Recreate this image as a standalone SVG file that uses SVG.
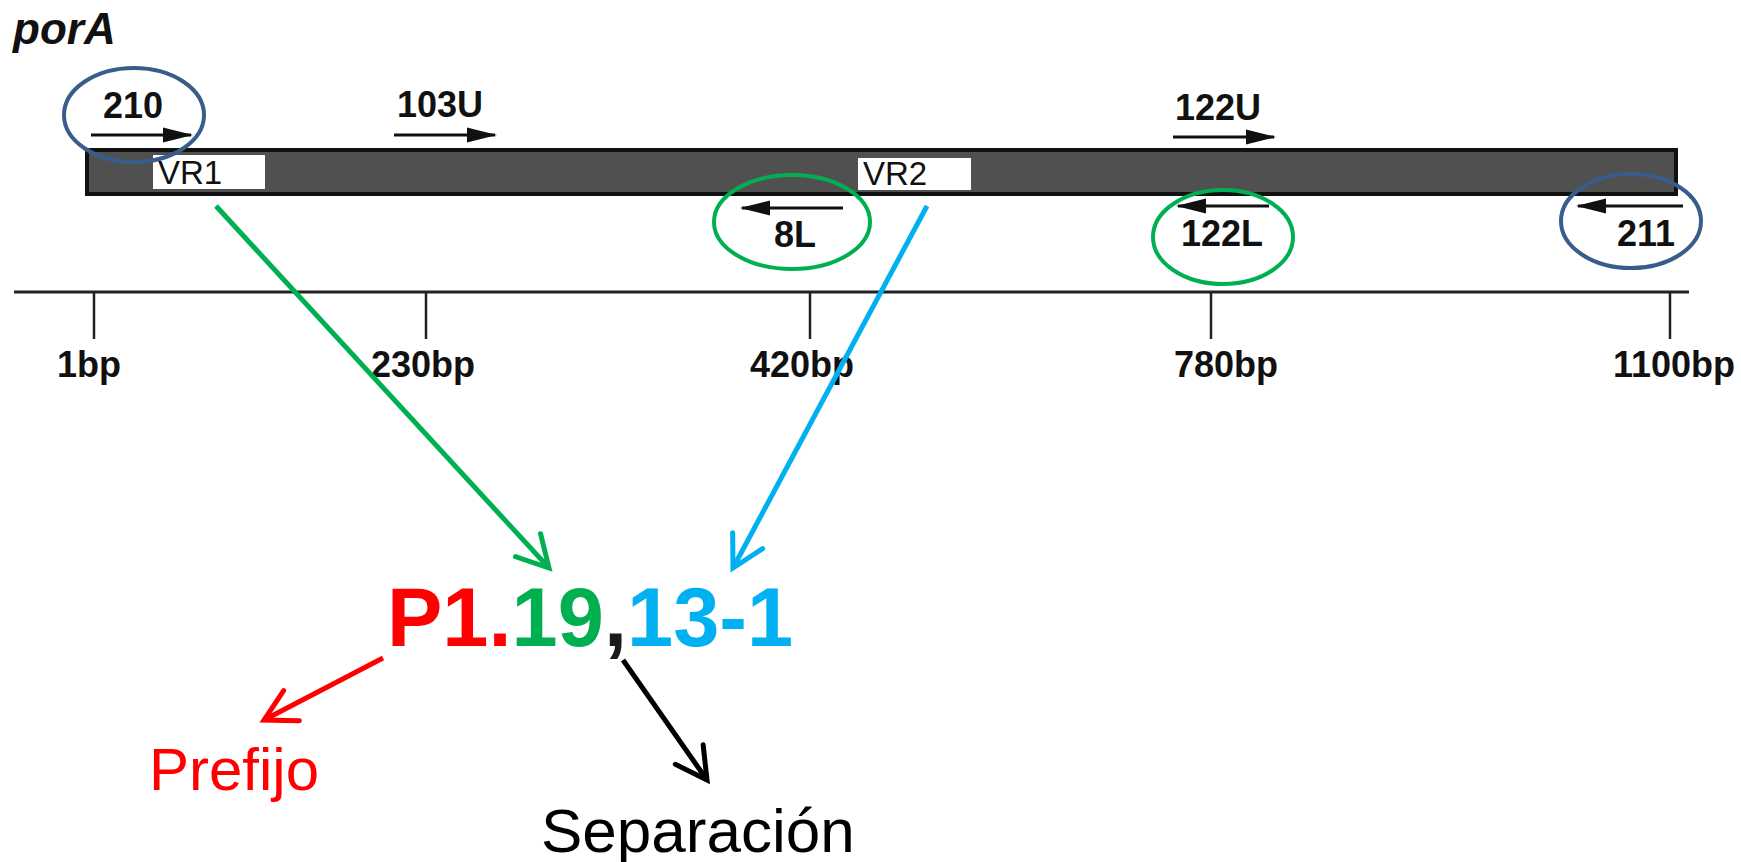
<svg xmlns="http://www.w3.org/2000/svg" width="1741" height="862" viewBox="0 0 1741 862">
<style>
  .lbl { font-family: "Liberation Sans", Arial, sans-serif; font-weight: bold; font-size: 36px; fill: #111; text-anchor: middle; }
  .vr { font-family: "Liberation Sans", Arial, sans-serif; font-size: 33px; fill: #111; }
  .primer { stroke: #111; stroke-width: 3; fill: none; marker-end: url(#tri); }
  .tick { stroke: #222; stroke-width: 2.5; }
  .ell-b { fill: none; stroke: #385D8A; stroke-width: 4; }
  .ell-g { fill: none; stroke: #00B050; stroke-width: 4; }
  .big { font-family: "Liberation Sans", Arial, sans-serif; font-weight: bold; font-size: 83px; }
  .word { font-family: "Liberation Sans", Arial, sans-serif; }
</style>
<defs>
  <marker id="tri" markerUnits="userSpaceOnUse" markerWidth="40" markerHeight="20" viewBox="-30 -10 32 20" refX="0" refY="0" orient="auto">
    <path d="M2 0 L-28 -7.5 L-28 7.5 Z" fill="#111"/>
  </marker>
  <marker id="mg" markerUnits="userSpaceOnUse" markerWidth="60" markerHeight="60" viewBox="-45 -30 60 60" refX="0" refY="0" orient="auto">
    <path d="M-31 -17 L0 0 L-31 17" fill="none" stroke="#00B050" stroke-width="5" stroke-linecap="round"/>
  </marker>
  <marker id="mb" markerUnits="userSpaceOnUse" markerWidth="60" markerHeight="60" viewBox="-45 -30 60 60" refX="0" refY="0" orient="auto">
    <path d="M-31 -17 L0 0 L-31 17" fill="none" stroke="#00B0F0" stroke-width="5" stroke-linecap="round"/>
  </marker>
  <marker id="mr" markerUnits="userSpaceOnUse" markerWidth="60" markerHeight="60" viewBox="-45 -30 60 60" refX="0" refY="0" orient="auto">
    <path d="M-31 -17 L0 0 L-31 17" fill="none" stroke="#FF0000" stroke-width="5" stroke-linecap="round"/>
  </marker>
  <marker id="mk" markerUnits="userSpaceOnUse" markerWidth="60" markerHeight="60" viewBox="-45 -30 60 60" refX="0" refY="0" orient="auto">
    <path d="M-31 -17 L0 0 L-31 17" fill="none" stroke="#000" stroke-width="5" stroke-linecap="round"/>
  </marker>
</defs>
<rect width="1741" height="862" fill="#fff"/>

<g id="title">
  <text x="13" y="44" font-family="Liberation Sans, Arial, sans-serif" font-weight="bold" font-style="italic" font-size="44" fill="#111">porA</text>
</g>

<g id="gene">
  <rect x="87" y="150" width="1589" height="44" fill="#505050" stroke="#111" stroke-width="4"/>
  <rect x="153" y="155" width="112" height="34" fill="#fff"/>
  <text class="vr" x="158" y="184">VR1</text>
  <rect x="858" y="158" width="113" height="32" fill="#fff"/>
  <text class="vr" x="863" y="185">VR2</text>
</g>

<g id="axis">
  <line x1="14" y1="292" x2="1689" y2="292" stroke="#222" stroke-width="3"/>
  <line class="tick" x1="94" y1="292" x2="94" y2="339"/>
  <line class="tick" x1="426" y1="292" x2="426" y2="339"/>
  <line class="tick" x1="810" y1="292" x2="810" y2="339"/>
  <line class="tick" x1="1211" y1="292" x2="1211" y2="339"/>
  <line class="tick" x1="1670" y1="292" x2="1670" y2="339"/>
  <text class="lbl" x="89" y="377">1bp</text>
  <text class="lbl" x="423" y="377">230bp</text>
  <text class="lbl" x="802" y="377">420bp</text>
  <text class="lbl" x="1226" y="377">780bp</text>
  <text class="lbl" x="1674" y="377">1100bp</text>
</g>

<g id="primer-210">
  <line class="primer" x1="91" y1="135" x2="191" y2="135"/>
  <text class="lbl" x="133" y="118">210</text>
  <ellipse class="ell-b" cx="134" cy="115" rx="70" ry="47"/>
</g>
<g id="primer-103U">
  <line class="primer" x1="394" y1="135" x2="495" y2="135"/>
  <text class="lbl" x="440" y="117">103U</text>
</g>
<g id="primer-122U">
  <line class="primer" x1="1173" y1="137" x2="1274" y2="137"/>
  <text class="lbl" x="1218" y="120">122U</text>
</g>
<g id="primer-8L">
  <line class="primer" x1="843" y1="208" x2="742" y2="208"/>
  <text class="lbl" x="795" y="247">8L</text>
  <ellipse class="ell-g" cx="792" cy="222" rx="78" ry="47"/>
</g>
<g id="primer-122L">
  <line class="primer" x1="1269" y1="206" x2="1178" y2="206"/>
  <text class="lbl" x="1222" y="246">122L</text>
  <ellipse class="ell-g" cx="1223" cy="237" rx="70" ry="47"/>
</g>
<g id="primer-211">
  <line class="primer" x1="1683" y1="206" x2="1578" y2="206"/>
  <text class="lbl" x="1646" y="246">211</text>
  <ellipse class="ell-b" cx="1631" cy="221" rx="70" ry="47"/>
</g>

<g id="code">
  <text class="big" x="387" y="646"><tspan fill="#FF0000">P1.</tspan><tspan fill="#00B050">19</tspan><tspan fill="#1a1a1a">,</tspan><tspan fill="#00B0F0">13-1</tspan></text>
</g>
<g id="prefijo">
  <text class="word" x="149" y="790" font-size="60" fill="#FF0000">Prefijo</text>
</g>
<g id="separacion">
  <text class="word" x="541" y="852" font-size="62" fill="#000">Separación</text>
</g>

<g id="connectors">
  <line x1="216" y1="206" x2="549" y2="568" stroke="#00B050" stroke-width="5" marker-end="url(#mg)"/>
  <line x1="927" y1="206" x2="733" y2="568" stroke="#00B0F0" stroke-width="5" marker-end="url(#mb)"/>
  <line x1="383" y1="658" x2="264" y2="720" stroke="#FF0000" stroke-width="5" marker-end="url(#mr)"/>
  <line x1="623" y1="660" x2="707" y2="780" stroke="#000" stroke-width="5" marker-end="url(#mk)"/>
</g>
</svg>
